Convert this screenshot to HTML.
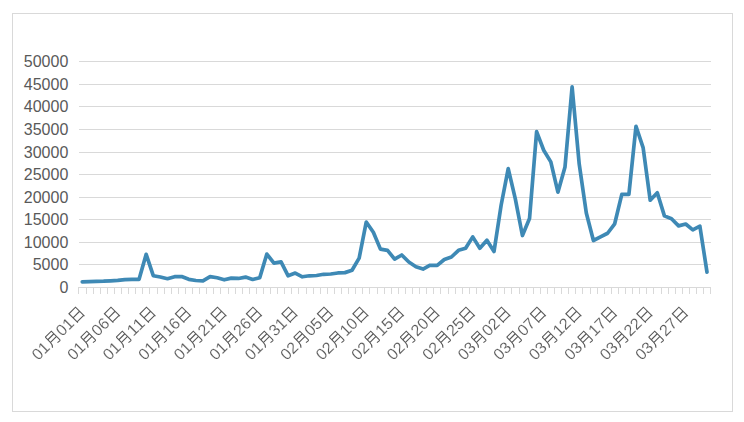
<!DOCTYPE html>
<html><head><meta charset="utf-8"><title>chart</title>
<style>
html,body{margin:0;padding:0;background:#fff;}
body{width:744px;height:422px;overflow:hidden;font-family:"Liberation Sans",sans-serif;}
svg{display:block;}
text{font-family:"Liberation Sans",sans-serif;fill:#595959;}
</style></head><body>
<svg width="744" height="422" viewBox="0 0 744 422">
<defs>
<g id="yue" fill="none" stroke="#595959" stroke-width="1.1" stroke-linecap="butt" stroke-linejoin="miter">
<path d="M3.9,-6.2 H12.4 V5.7 Q12.4,6.6 11.5,6.6 L8.7,6.25"/>
<path d="M3.9,-6.2 V1.0 C3.9,3.2 3.3,4.8 1.5,6.4"/>
<path d="M3.9,-2.6 H12.4 M3.9,1.2 H12.4"/>
</g>
<g id="ri" fill="none" stroke="#595959" stroke-width="1.1" stroke-linecap="butt" stroke-linejoin="miter">
<path d="M3.2,6.6 V-6.1 H12.5 V6.6 M3.2,-0.3 H12.5 M3.2,5.45 H12.5"/>
</g>
</defs>
<rect x="0" y="0" width="744" height="422" fill="#ffffff"/>
<rect x="12.5" y="13.5" width="720" height="398" fill="none" stroke="#d9d9d9" stroke-width="1"/>

<g stroke="#d9d9d9" stroke-width="1" shape-rendering="crispEdges">
<line x1="79" y1="61.5" x2="711" y2="61.5"/>
<line x1="79" y1="84.5" x2="711" y2="84.5"/>
<line x1="79" y1="106.5" x2="711" y2="106.5"/>
<line x1="79" y1="129.5" x2="711" y2="129.5"/>
<line x1="79" y1="152.5" x2="711" y2="152.5"/>
<line x1="79" y1="174.5" x2="711" y2="174.5"/>
<line x1="79" y1="197.5" x2="711" y2="197.5"/>
<line x1="79" y1="219.5" x2="711" y2="219.5"/>
<line x1="79" y1="242.5" x2="711" y2="242.5"/>
<line x1="79" y1="264.5" x2="711" y2="264.5"/>
<line x1="78" y1="287.5" x2="711" y2="287.5"/>
<line x1="78.5" y1="287" x2="78.5" y2="294"/>
<line x1="86.5" y1="287" x2="86.5" y2="294"/>
<line x1="93.5" y1="287" x2="93.5" y2="294"/>
<line x1="100.5" y1="287" x2="100.5" y2="294"/>
<line x1="107.5" y1="287" x2="107.5" y2="294"/>
<line x1="114.5" y1="287" x2="114.5" y2="294"/>
<line x1="121.5" y1="287" x2="121.5" y2="294"/>
<line x1="128.5" y1="287" x2="128.5" y2="294"/>
<line x1="135.5" y1="287" x2="135.5" y2="294"/>
<line x1="142.5" y1="287" x2="142.5" y2="294"/>
<line x1="149.5" y1="287" x2="149.5" y2="294"/>
<line x1="157.5" y1="287" x2="157.5" y2="294"/>
<line x1="164.5" y1="287" x2="164.5" y2="294"/>
<line x1="171.5" y1="287" x2="171.5" y2="294"/>
<line x1="178.5" y1="287" x2="178.5" y2="294"/>
<line x1="185.5" y1="287" x2="185.5" y2="294"/>
<line x1="192.5" y1="287" x2="192.5" y2="294"/>
<line x1="199.5" y1="287" x2="199.5" y2="294"/>
<line x1="206.5" y1="287" x2="206.5" y2="294"/>
<line x1="213.5" y1="287" x2="213.5" y2="294"/>
<line x1="220.5" y1="287" x2="220.5" y2="294"/>
<line x1="228.5" y1="287" x2="228.5" y2="294"/>
<line x1="235.5" y1="287" x2="235.5" y2="294"/>
<line x1="242.5" y1="287" x2="242.5" y2="294"/>
<line x1="249.5" y1="287" x2="249.5" y2="294"/>
<line x1="256.5" y1="287" x2="256.5" y2="294"/>
<line x1="263.5" y1="287" x2="263.5" y2="294"/>
<line x1="270.5" y1="287" x2="270.5" y2="294"/>
<line x1="277.5" y1="287" x2="277.5" y2="294"/>
<line x1="284.5" y1="287" x2="284.5" y2="294"/>
<line x1="291.5" y1="287" x2="291.5" y2="294"/>
<line x1="298.5" y1="287" x2="298.5" y2="294"/>
<line x1="306.5" y1="287" x2="306.5" y2="294"/>
<line x1="313.5" y1="287" x2="313.5" y2="294"/>
<line x1="320.5" y1="287" x2="320.5" y2="294"/>
<line x1="327.5" y1="287" x2="327.5" y2="294"/>
<line x1="334.5" y1="287" x2="334.5" y2="294"/>
<line x1="341.5" y1="287" x2="341.5" y2="294"/>
<line x1="348.5" y1="287" x2="348.5" y2="294"/>
<line x1="355.5" y1="287" x2="355.5" y2="294"/>
<line x1="362.5" y1="287" x2="362.5" y2="294"/>
<line x1="369.5" y1="287" x2="369.5" y2="294"/>
<line x1="377.5" y1="287" x2="377.5" y2="294"/>
<line x1="384.5" y1="287" x2="384.5" y2="294"/>
<line x1="391.5" y1="287" x2="391.5" y2="294"/>
<line x1="398.5" y1="287" x2="398.5" y2="294"/>
<line x1="405.5" y1="287" x2="405.5" y2="294"/>
<line x1="412.5" y1="287" x2="412.5" y2="294"/>
<line x1="419.5" y1="287" x2="419.5" y2="294"/>
<line x1="426.5" y1="287" x2="426.5" y2="294"/>
<line x1="433.5" y1="287" x2="433.5" y2="294"/>
<line x1="440.5" y1="287" x2="440.5" y2="294"/>
<line x1="448.5" y1="287" x2="448.5" y2="294"/>
<line x1="455.5" y1="287" x2="455.5" y2="294"/>
<line x1="462.5" y1="287" x2="462.5" y2="294"/>
<line x1="469.5" y1="287" x2="469.5" y2="294"/>
<line x1="476.5" y1="287" x2="476.5" y2="294"/>
<line x1="483.5" y1="287" x2="483.5" y2="294"/>
<line x1="490.5" y1="287" x2="490.5" y2="294"/>
<line x1="497.5" y1="287" x2="497.5" y2="294"/>
<line x1="504.5" y1="287" x2="504.5" y2="294"/>
<line x1="511.5" y1="287" x2="511.5" y2="294"/>
<line x1="519.5" y1="287" x2="519.5" y2="294"/>
<line x1="526.5" y1="287" x2="526.5" y2="294"/>
<line x1="533.5" y1="287" x2="533.5" y2="294"/>
<line x1="540.5" y1="287" x2="540.5" y2="294"/>
<line x1="547.5" y1="287" x2="547.5" y2="294"/>
<line x1="554.5" y1="287" x2="554.5" y2="294"/>
<line x1="561.5" y1="287" x2="561.5" y2="294"/>
<line x1="568.5" y1="287" x2="568.5" y2="294"/>
<line x1="575.5" y1="287" x2="575.5" y2="294"/>
<line x1="582.5" y1="287" x2="582.5" y2="294"/>
<line x1="590.5" y1="287" x2="590.5" y2="294"/>
<line x1="597.5" y1="287" x2="597.5" y2="294"/>
<line x1="604.5" y1="287" x2="604.5" y2="294"/>
<line x1="611.5" y1="287" x2="611.5" y2="294"/>
<line x1="618.5" y1="287" x2="618.5" y2="294"/>
<line x1="625.5" y1="287" x2="625.5" y2="294"/>
<line x1="632.5" y1="287" x2="632.5" y2="294"/>
<line x1="639.5" y1="287" x2="639.5" y2="294"/>
<line x1="646.5" y1="287" x2="646.5" y2="294"/>
<line x1="653.5" y1="287" x2="653.5" y2="294"/>
<line x1="661.5" y1="287" x2="661.5" y2="294"/>
<line x1="668.5" y1="287" x2="668.5" y2="294"/>
<line x1="675.5" y1="287" x2="675.5" y2="294"/>
<line x1="682.5" y1="287" x2="682.5" y2="294"/>
<line x1="689.5" y1="287" x2="689.5" y2="294"/>
<line x1="696.5" y1="287" x2="696.5" y2="294"/>
<line x1="703.5" y1="287" x2="703.5" y2="294"/>
<line x1="710.5" y1="287" x2="710.5" y2="294"/>
</g>
<g font-size="16" text-anchor="end">
<text x="68.3" y="293.3">0</text>
<text x="68.3" y="270.3">5000</text>
<text x="68.3" y="248.3">10000</text>
<text x="68.3" y="225.3">15000</text>
<text x="68.3" y="203.3">20000</text>
<text x="68.3" y="180.3">25000</text>
<text x="68.3" y="158.3">30000</text>
<text x="68.3" y="135.3">35000</text>
<text x="68.3" y="112.3">40000</text>
<text x="68.3" y="90.3">45000</text>
<text x="68.3" y="67.3">50000</text>
</g>
<polyline fill="none" stroke="#3e89b5" stroke-width="3.7" stroke-linejoin="round" stroke-linecap="round" points="82.28,281.85 89.38,281.67 96.48,281.35 103.58,281.17 110.68,280.81 117.77,280.45 124.87,279.54 131.97,279.36 139.07,279.36 146.17,254.32 153.27,275.70 160.37,277.01 167.47,278.69 174.57,276.70 181.67,276.52 188.76,279.32 195.86,280.49 202.96,280.81 210.06,276.65 217.16,277.78 224.26,279.82 231.36,278.14 238.46,278.46 245.56,277.10 252.66,279.45 259.75,277.78 266.85,254.05 273.95,263.09 281.05,261.87 288.15,275.79 295.25,273.10 302.35,276.79 309.45,275.79 316.55,275.52 323.65,274.30 330.74,273.99 337.84,272.97 344.94,272.63 352.04,270.28 359.14,258.17 366.24,222.05 373.34,232.31 380.44,249.13 387.54,250.30 394.63,259.20 401.73,255.00 408.83,262.05 415.93,266.75 423.03,269.10 430.13,265.24 437.23,265.40 444.33,259.52 451.43,256.99 458.53,250.30 465.62,248.27 472.72,236.88 479.82,248.27 486.92,240.22 494.02,251.48 501.12,205.24 508.22,168.62 515.32,198.91 522.42,235.52 529.52,218.57 536.61,131.56 543.71,150.23 550.81,161.89 557.91,192.13 565.01,166.91 572.11,86.81 579.21,164.10 586.31,212.92 593.41,240.49 600.51,236.88 607.60,233.26 614.70,223.77 621.80,194.43 628.90,194.43 636.00,126.27 643.10,147.56 650.20,200.26 657.30,192.76 664.40,215.86 671.50,218.80 678.59,225.89 685.69,224.04 692.79,229.92 699.89,226.21 706.99,272.13"/>
<g style="will-change:transform;opacity:0.999">
<g transform="translate(82.28,309.00) rotate(-45)"><use href="#ri" x="-16" y="0"/><text stroke="#fff" stroke-width="0.15" fill="#4c4c4c" font-size="16" x="-16.00" y="5.7" text-anchor="end" textLength="18.0" lengthAdjust="spacingAndGlyphs">01</text><use href="#yue" x="-50.00" y="0"/><text stroke="#fff" stroke-width="0.15" fill="#4c4c4c" font-size="16" x="-50.00" y="5.7" text-anchor="end" textLength="18.0" lengthAdjust="spacingAndGlyphs">01</text></g>
<g transform="translate(117.77,309.00) rotate(-45)"><use href="#ri" x="-16" y="0"/><text stroke="#fff" stroke-width="0.15" fill="#4c4c4c" font-size="16" x="-16.00" y="5.7" text-anchor="end" textLength="18.0" lengthAdjust="spacingAndGlyphs">06</text><use href="#yue" x="-50.00" y="0"/><text stroke="#fff" stroke-width="0.15" fill="#4c4c4c" font-size="16" x="-50.00" y="5.7" text-anchor="end" textLength="18.0" lengthAdjust="spacingAndGlyphs">01</text></g>
<g transform="translate(153.27,309.00) rotate(-45)"><use href="#ri" x="-16" y="0"/><text stroke="#fff" stroke-width="0.15" fill="#4c4c4c" font-size="16" x="-16.00" y="5.7" text-anchor="end" textLength="18.0" lengthAdjust="spacingAndGlyphs">11</text><use href="#yue" x="-50.00" y="0"/><text stroke="#fff" stroke-width="0.15" fill="#4c4c4c" font-size="16" x="-50.00" y="5.7" text-anchor="end" textLength="18.0" lengthAdjust="spacingAndGlyphs">01</text></g>
<g transform="translate(188.76,309.00) rotate(-45)"><use href="#ri" x="-16" y="0"/><text stroke="#fff" stroke-width="0.15" fill="#4c4c4c" font-size="16" x="-16.00" y="5.7" text-anchor="end" textLength="18.0" lengthAdjust="spacingAndGlyphs">16</text><use href="#yue" x="-50.00" y="0"/><text stroke="#fff" stroke-width="0.15" fill="#4c4c4c" font-size="16" x="-50.00" y="5.7" text-anchor="end" textLength="18.0" lengthAdjust="spacingAndGlyphs">01</text></g>
<g transform="translate(224.26,309.00) rotate(-45)"><use href="#ri" x="-16" y="0"/><text stroke="#fff" stroke-width="0.15" fill="#4c4c4c" font-size="16" x="-16.00" y="5.7" text-anchor="end" textLength="18.0" lengthAdjust="spacingAndGlyphs">21</text><use href="#yue" x="-50.00" y="0"/><text stroke="#fff" stroke-width="0.15" fill="#4c4c4c" font-size="16" x="-50.00" y="5.7" text-anchor="end" textLength="18.0" lengthAdjust="spacingAndGlyphs">01</text></g>
<g transform="translate(259.75,309.00) rotate(-45)"><use href="#ri" x="-16" y="0"/><text stroke="#fff" stroke-width="0.15" fill="#4c4c4c" font-size="16" x="-16.00" y="5.7" text-anchor="end" textLength="18.0" lengthAdjust="spacingAndGlyphs">26</text><use href="#yue" x="-50.00" y="0"/><text stroke="#fff" stroke-width="0.15" fill="#4c4c4c" font-size="16" x="-50.00" y="5.7" text-anchor="end" textLength="18.0" lengthAdjust="spacingAndGlyphs">01</text></g>
<g transform="translate(295.25,309.00) rotate(-45)"><use href="#ri" x="-16" y="0"/><text stroke="#fff" stroke-width="0.15" fill="#4c4c4c" font-size="16" x="-16.00" y="5.7" text-anchor="end" textLength="18.0" lengthAdjust="spacingAndGlyphs">31</text><use href="#yue" x="-50.00" y="0"/><text stroke="#fff" stroke-width="0.15" fill="#4c4c4c" font-size="16" x="-50.00" y="5.7" text-anchor="end" textLength="18.0" lengthAdjust="spacingAndGlyphs">01</text></g>
<g transform="translate(330.74,309.00) rotate(-45)"><use href="#ri" x="-16" y="0"/><text stroke="#fff" stroke-width="0.15" fill="#4c4c4c" font-size="16" x="-16.00" y="5.7" text-anchor="end" textLength="18.0" lengthAdjust="spacingAndGlyphs">05</text><use href="#yue" x="-50.00" y="0"/><text stroke="#fff" stroke-width="0.15" fill="#4c4c4c" font-size="16" x="-50.00" y="5.7" text-anchor="end" textLength="18.0" lengthAdjust="spacingAndGlyphs">02</text></g>
<g transform="translate(366.24,309.00) rotate(-45)"><use href="#ri" x="-16" y="0"/><text stroke="#fff" stroke-width="0.15" fill="#4c4c4c" font-size="16" x="-16.00" y="5.7" text-anchor="end" textLength="18.0" lengthAdjust="spacingAndGlyphs">10</text><use href="#yue" x="-50.00" y="0"/><text stroke="#fff" stroke-width="0.15" fill="#4c4c4c" font-size="16" x="-50.00" y="5.7" text-anchor="end" textLength="18.0" lengthAdjust="spacingAndGlyphs">02</text></g>
<g transform="translate(401.73,309.00) rotate(-45)"><use href="#ri" x="-16" y="0"/><text stroke="#fff" stroke-width="0.15" fill="#4c4c4c" font-size="16" x="-16.00" y="5.7" text-anchor="end" textLength="18.0" lengthAdjust="spacingAndGlyphs">15</text><use href="#yue" x="-50.00" y="0"/><text stroke="#fff" stroke-width="0.15" fill="#4c4c4c" font-size="16" x="-50.00" y="5.7" text-anchor="end" textLength="18.0" lengthAdjust="spacingAndGlyphs">02</text></g>
<g transform="translate(437.23,309.00) rotate(-45)"><use href="#ri" x="-16" y="0"/><text stroke="#fff" stroke-width="0.15" fill="#4c4c4c" font-size="16" x="-16.00" y="5.7" text-anchor="end" textLength="18.0" lengthAdjust="spacingAndGlyphs">20</text><use href="#yue" x="-50.00" y="0"/><text stroke="#fff" stroke-width="0.15" fill="#4c4c4c" font-size="16" x="-50.00" y="5.7" text-anchor="end" textLength="18.0" lengthAdjust="spacingAndGlyphs">02</text></g>
<g transform="translate(472.72,309.00) rotate(-45)"><use href="#ri" x="-16" y="0"/><text stroke="#fff" stroke-width="0.15" fill="#4c4c4c" font-size="16" x="-16.00" y="5.7" text-anchor="end" textLength="18.0" lengthAdjust="spacingAndGlyphs">25</text><use href="#yue" x="-50.00" y="0"/><text stroke="#fff" stroke-width="0.15" fill="#4c4c4c" font-size="16" x="-50.00" y="5.7" text-anchor="end" textLength="18.0" lengthAdjust="spacingAndGlyphs">02</text></g>
<g transform="translate(508.22,309.00) rotate(-45)"><use href="#ri" x="-16" y="0"/><text stroke="#fff" stroke-width="0.15" fill="#4c4c4c" font-size="16" x="-16.00" y="5.7" text-anchor="end" textLength="18.0" lengthAdjust="spacingAndGlyphs">02</text><use href="#yue" x="-50.00" y="0"/><text stroke="#fff" stroke-width="0.15" fill="#4c4c4c" font-size="16" x="-50.00" y="5.7" text-anchor="end" textLength="18.0" lengthAdjust="spacingAndGlyphs">03</text></g>
<g transform="translate(543.71,309.00) rotate(-45)"><use href="#ri" x="-16" y="0"/><text stroke="#fff" stroke-width="0.15" fill="#4c4c4c" font-size="16" x="-16.00" y="5.7" text-anchor="end" textLength="18.0" lengthAdjust="spacingAndGlyphs">07</text><use href="#yue" x="-50.00" y="0"/><text stroke="#fff" stroke-width="0.15" fill="#4c4c4c" font-size="16" x="-50.00" y="5.7" text-anchor="end" textLength="18.0" lengthAdjust="spacingAndGlyphs">03</text></g>
<g transform="translate(579.21,309.00) rotate(-45)"><use href="#ri" x="-16" y="0"/><text stroke="#fff" stroke-width="0.15" fill="#4c4c4c" font-size="16" x="-16.00" y="5.7" text-anchor="end" textLength="18.0" lengthAdjust="spacingAndGlyphs">12</text><use href="#yue" x="-50.00" y="0"/><text stroke="#fff" stroke-width="0.15" fill="#4c4c4c" font-size="16" x="-50.00" y="5.7" text-anchor="end" textLength="18.0" lengthAdjust="spacingAndGlyphs">03</text></g>
<g transform="translate(614.70,309.00) rotate(-45)"><use href="#ri" x="-16" y="0"/><text stroke="#fff" stroke-width="0.15" fill="#4c4c4c" font-size="16" x="-16.00" y="5.7" text-anchor="end" textLength="18.0" lengthAdjust="spacingAndGlyphs">17</text><use href="#yue" x="-50.00" y="0"/><text stroke="#fff" stroke-width="0.15" fill="#4c4c4c" font-size="16" x="-50.00" y="5.7" text-anchor="end" textLength="18.0" lengthAdjust="spacingAndGlyphs">03</text></g>
<g transform="translate(650.20,309.00) rotate(-45)"><use href="#ri" x="-16" y="0"/><text stroke="#fff" stroke-width="0.15" fill="#4c4c4c" font-size="16" x="-16.00" y="5.7" text-anchor="end" textLength="18.0" lengthAdjust="spacingAndGlyphs">22</text><use href="#yue" x="-50.00" y="0"/><text stroke="#fff" stroke-width="0.15" fill="#4c4c4c" font-size="16" x="-50.00" y="5.7" text-anchor="end" textLength="18.0" lengthAdjust="spacingAndGlyphs">03</text></g>
<g transform="translate(685.69,309.00) rotate(-45)"><use href="#ri" x="-16" y="0"/><text stroke="#fff" stroke-width="0.15" fill="#4c4c4c" font-size="16" x="-16.00" y="5.7" text-anchor="end" textLength="18.0" lengthAdjust="spacingAndGlyphs">27</text><use href="#yue" x="-50.00" y="0"/><text stroke="#fff" stroke-width="0.15" fill="#4c4c4c" font-size="16" x="-50.00" y="5.7" text-anchor="end" textLength="18.0" lengthAdjust="spacingAndGlyphs">03</text></g>
</g>
</svg></body></html>
